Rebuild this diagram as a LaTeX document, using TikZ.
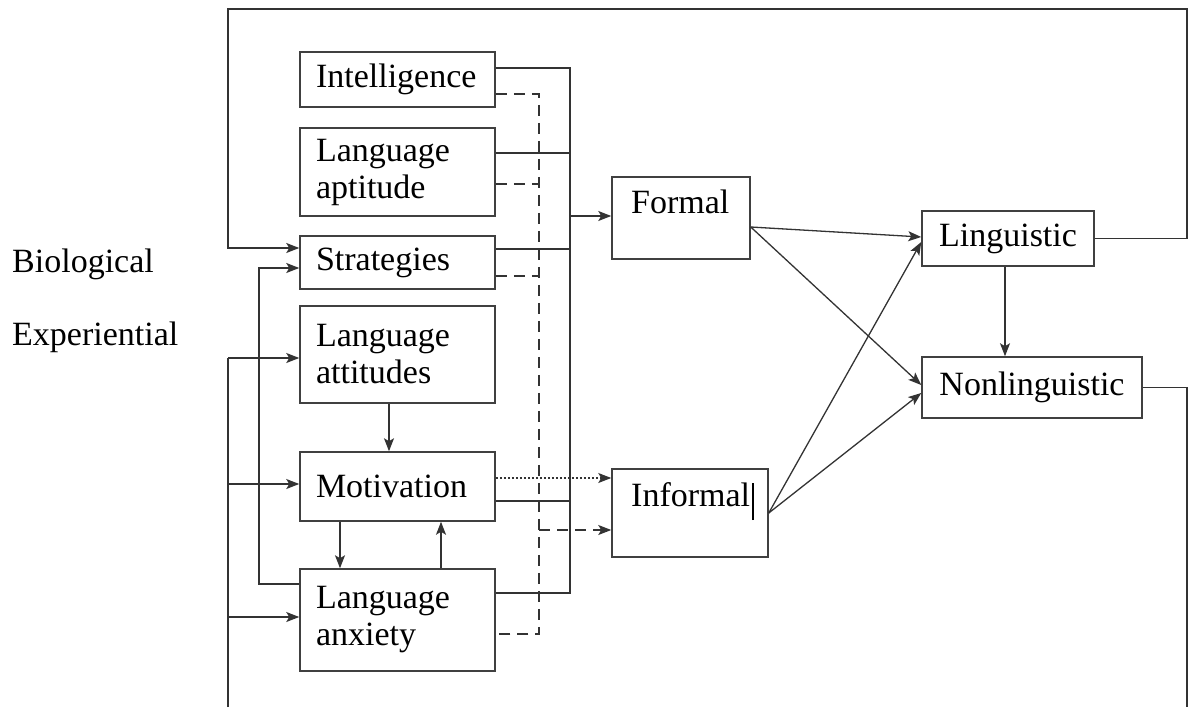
\documentclass[tikz,border=0pt]{standalone}
\usepackage{fontspec}
\setmainfont{Liberation Serif}
\usetikzlibrary{arrows.meta,calc}
\begin{document}
\begin{tikzpicture}[x=1pt,y=-1pt,
  txt/.style={inner sep=0pt, font=\fontsize{34}{37}\selectfont, text=black},
  box/.style={draw=black!75, line width=1.5pt, rectangle, inner sep=0pt},
  lbox/.style={box, txt, minimum width=195pt, text width=163pt, inner xsep=16pt, inner ysep=0pt, align=left},
  wire/.style={draw=black!80, line width=1.3pt},
  tip/.style={-{Stealth[length=13pt,width=10pt,inset=3pt]}},
  arr/.style={wire, tip},
  dashline/.style={wire, dash pattern=on 11pt off 7pt},
  dotline/.style={wire, line width=1.1pt, dash pattern=on 2pt off 2pt}
]
\useasboundingbox (0,0) rectangle (1189,707);

% left column boxes
\node[lbox, minimum height=55pt] (intel) at (397.5,79.5) {Intelligence};
\node[lbox, minimum height=88pt] (apt) at (397.5,172) {Language\\aptitude};
\node[lbox, minimum height=53pt] (strat) at (397.5,262.5) {Strategies};
\node[lbox, minimum height=97pt] (att) at (397.5,354.5) {Language\\attitudes};
\node[lbox, minimum height=69pt] (mot) at (397.5,486.5) {Motivation};
\node[lbox, minimum height=102pt] (anx) at (397.5,620) {Language\\anxiety};

% middle boxes
\node[box, minimum width=138pt, minimum height=82pt] (formal) at (681,218) {};
\node[txt, anchor=base west] (formalt) at (631,213) {Formal};
\node[box, minimum width=156pt, minimum height=88pt] (informal) at (690,513) {};
\node[txt, anchor=base west] (informalt) at (631,506) {Informal\kern2pt\rule[-14pt]{1.5pt}{37pt}};

% right boxes
\node[box, txt, minimum width=172pt, minimum height=55pt] (ling) at (1008,238.5) {Linguistic};
\node[box, txt, minimum width=220pt, minimum height=61pt] (nonling) at (1032,387.5) {Nonlinguistic};

% side labels
\node[txt, anchor=base west] (bio) at (12,272) {Biological};
\node[txt, anchor=base west] (exp) at (12,345) {Experiential};

% helper coordinates
\coordinate (bx) at (570,0);
\coordinate (dx) at (539,0);
\coordinate (i1) at ($(intel.east)+(0,-11.5)$);
\coordinate (i2) at ($(intel.east)+(0,14.5)$);
\coordinate (a1) at ($(apt.east)+(0,-19)$);
\coordinate (a2) at ($(apt.east)+(0,12)$);
\coordinate (s1) at ($(strat.east)+(0,-13.5)$);
\coordinate (s2) at ($(strat.east)+(0,13.5)$);
\coordinate (m1) at ($(mot.east)+(0,-8.5)$);
\coordinate (m2) at ($(mot.east)+(0,14.5)$);
\coordinate (n1) at ($(anx.east)+(0,-27)$);
\coordinate (n2) at ($(anx.east)+(0,14)$);
\coordinate (fin) at ($(formal.west)+(0,-2)$);
\coordinate (iin) at ($(informal.west)+(0,17)$);
\coordinate (idot) at (m1 -| informal.west);

% solid bus to Formal
\draw[wire] (i1) -- (i1 -| bx) -- (n1 -| bx) -- (n1);
\draw[wire] (a1) -- (a1 -| bx);
\draw[wire] (s1) -- (s1 -| bx);
\draw[wire] (m2) -- (m2 -| bx);
\draw[arr] (fin -| bx) -- (fin);

% dashed bus to Informal
\draw[dashline] (i2) -- (i2 -| dx) -- (n2 -| dx) -- (n2);
\draw[dashline] (a2) -- (a2 -| dx);
\draw[dashline] (s2) -- (s2 -| dx);
\draw[dashline, tip] (iin -| dx) -- (iin);

% dotted Motivation -> Informal
\draw[dotline, tip] (m1) -- (idot);

% Formal/Informal -> outcomes
\coordinate (fo) at ($(formal.east)+(0,9)$);
\coordinate (l1) at ($(ling.west)+(0,-1.5)$);
\coordinate (l2) at ($(ling.west)+(0,3.5)$);
\coordinate (nl1) at ($(nonling.west)+(0,-2.5)$);
\coordinate (nl2) at ($(nonling.west)+(0,5.5)$);
\draw[arr] (fo) -- (l1);
\draw[arr] (fo) -- (nl1);
\draw[arr] (informal.east) -- (l2);
\draw[arr] (informal.east) -- (nl2);
\coordinate (ls) at ($(ling.south)+(-3,0)$);
\coordinate (ln) at (ls |- nonling.north);
\draw[arr] (ls) -- (ln);

% feedback from Linguistic to Strategies
\coordinate (rt) at (1187,9);
\coordinate (lt) at (228,9);
\coordinate (st1) at ($(strat.west)+(0,-14.5)$);
\draw[arr] (ling.east) -- (ling.east -| rt) -- (rt) -- (lt) -- (lt |- st1) -- (st1);

% feedback from Nonlinguistic (runs off the bottom)
\coordinate (rb) at (1187,707);
\coordinate (lb) at (228,707);
\coordinate (at1) at ($(att.west)+(0,3.5)$);
\coordinate (mt1) at ($(mot.west)+(0,-2.5)$);
\coordinate (xt1) at ($(anx.west)+(0,-3)$);
\draw[wire] (nonling.east) -- (nonling.east -| rb) -- (rb);
\draw[wire] (lb) -- (lb |- at1);
\draw[arr] (at1 -| lb) -- (at1);
\draw[arr] (mt1 -| lb) -- (mt1);
\draw[arr] (xt1 -| lb) -- (xt1);

% Language anxiety -> Strategies
\coordinate (ax) at (259,0);
\coordinate (xs) at ($(anx.west)+(0,-36)$);
\coordinate (st2) at ($(strat.west)+(0,5.5)$);
\draw[arr] (xs) -- (xs -| ax) -- (st2 -| ax) -- (st2);

% inner arrows
\coordinate (as) at ($(att.south)+(-8.5,0)$);
\coordinate (mn) at (as |- mot.north);
\draw[arr] (as) -- (mn);
\coordinate (ms) at ($(mot.south)+(-57.5,0)$);
\coordinate (xn) at (ms |- anx.north);
\draw[arr] (ms) -- (xn);
\coordinate (xn2) at ($(anx.north)+(43.5,0)$);
\coordinate (ms2) at (xn2 |- mot.south);
\draw[arr] (xn2) -- (ms2);
\end{tikzpicture}
\end{document}
